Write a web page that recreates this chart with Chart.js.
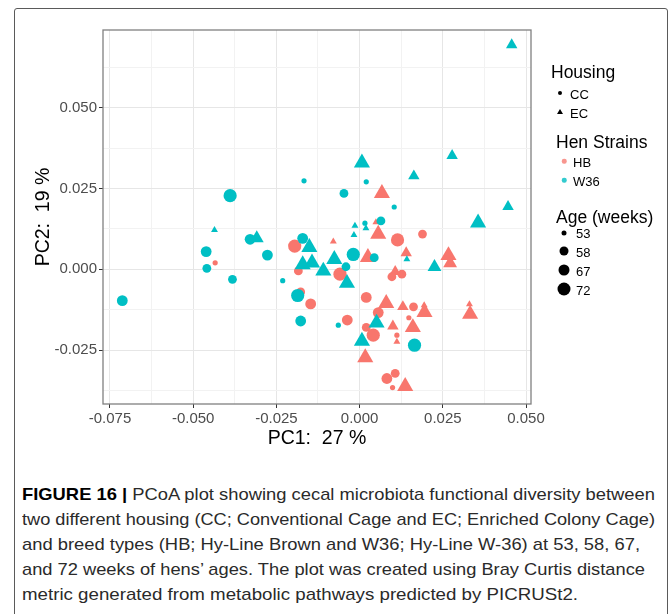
<!DOCTYPE html>
<html>
<head>
<meta charset="utf-8">
<script src="https://cdn.jsdelivr.net/npm/chart.js@4.4.1/dist/chart.umd.min.js"></script>
<style>
  html, body { margin: 0; padding: 0; background: #fff; }
  body { width: 670px; height: 614px; position: relative; overflow: hidden; font-family: "Liberation Sans", Arimo, Arial, sans-serif; }
  #frame { position: absolute; left: 14px; top: 8px; width: 652px; height: 630px; border: 1.5px solid #5a5a5a; border-radius: 3px; }
  #pcoa { position: absolute; left: 0; top: 0; }
  .lg { position: absolute; transform: translateY(-50%); line-height: 1; color: #000; white-space: nowrap; }
  .lt { font-size: 17.5px; }
  .li { font-size: 13px; }
  .sym { position: absolute; transform: translate(-50%, -50%); border-radius: 50%; }
  .tri { position: absolute; transform: translate(-50%, -60%); width: 0; height: 0; border-left: 3px solid transparent; border-right: 3px solid transparent; border-bottom: 5px solid #000; }
  .cap { position: absolute; left: 22px; font-family: "Liberation Sans", Arimo, Arial, sans-serif; font-size: 17px; color: #2a2a2a; white-space: nowrap; transform-origin: 0 50%; line-height: 1; }
  .cap b { color: #000; }
</style>
</head>
<body>
<div id="frame"></div>
<canvas id="pcoa" width="670" height="460"></canvas>

<div class="lg lt" style="left:551px;top:73px">Housing</div>
<div class="sym" style="left:560px;top:93px;width:4px;height:4px;background:#000"></div>
<div class="lg li" style="left:570px;top:93.5px">CC</div>
<div class="tri" style="left:560px;top:112px"></div>
<div class="lg li" style="left:570px;top:112.5px">EC</div>

<div class="lg lt" style="left:556px;top:143px">Hen Strains</div>
<div class="sym" style="left:564px;top:161px;width:4.5px;height:4.5px;background:#f8968f"></div>
<div class="lg li" style="left:573px;top:161.5px">HB</div>
<div class="sym" style="left:564px;top:180px;width:4.5px;height:4.5px;background:#33cbcf"></div>
<div class="lg li" style="left:573px;top:180.5px">W36</div>

<div class="lg lt" style="left:556px;top:218px">Age (weeks)</div>
<div class="sym" style="left:564px;top:232.5px;width:5px;height:5px;background:#000"></div>
<div class="lg li" style="left:576px;top:233px">53</div>
<div class="sym" style="left:564px;top:251px;width:9px;height:9px;background:#000"></div>
<div class="lg li" style="left:576px;top:251.5px">58</div>
<div class="sym" style="left:564px;top:270px;width:11px;height:11px;background:#000"></div>
<div class="lg li" style="left:576px;top:270.5px">67</div>
<div class="sym" style="left:564px;top:289px;width:13px;height:13px;background:#000"></div>
<div class="lg li" style="left:576px;top:289.5px">72</div>

<div class="cap" data-w="633" style="top:486px"><b>FIGURE 16 |</b> PCoA plot showing cecal microbiota functional diversity between</div>
<div class="cap" data-w="633" style="top:511px">two different housing (CC; Conventional Cage and EC; Enriched Colony Cage)</div>
<div class="cap" data-w="618" style="top:536px">and breed types (HB; Hy-Line Brown and W36; Hy-Line W-36) at 53, 58, 67,</div>
<div class="cap" data-w="623" style="top:561px">and 72 weeks of hens’ ages. The plot was created using Bray Curtis distance</div>
<div class="cap" data-w="556" style="top:586px">metric generated from metabolic pathways predicted by PICRUSt2.</div>

<script>
// HB, conventional cage (circles)
const hbCcX = [-0.0434, -0.0195, -0.0184, -0.0177, -0.0147, -0.0059, -0.0037, 0.0020, 0.0114, 0.0189, 0.0097, 0.0127, 0.0162, 0.0056, 0.0148, 0.0020, 0.0041, 0.0112, 0.0082, 0.0107, 0.0099];
const hbCcY = [0.0020, 0.0072, -0.0005, -0.0070, -0.0107, -0.0015, -0.0157, -0.0087, 0.0091, 0.0109, -0.0023, -0.0015, -0.0116, -0.0134, -0.0150, -0.0180, -0.0204, -0.0204, -0.0338, -0.0322, -0.0366];
const hbCcAge = [53, 72, 58, 58, 67, 72, 67, 67, 72, 58, 58, 58, 58, 67, 53, 58, 72, 53, 67, 58, 53];

// HB, enriched colony (triangles)
const hbEcX = [-0.0079, 0.0025, 0.0056, 0.0049, 0.0067, 0.0140, 0.0267, 0.0272, 0.0107, 0.0080, 0.0130, 0.0194, 0.0195, 0.0330, 0.0332, 0.0100, 0.0160, 0.0112, 0.0017, 0.0137];
const hbEcY = [0.0086, 0.0037, 0.0109, 0.0146, 0.0235, 0.0051, 0.0043, 0.0019, -0.0007, -0.0105, -0.0116, -0.0111, -0.0133, -0.0108, -0.0139, -0.0176, -0.0180, -0.0224, -0.0273, -0.0362];
const hbEcAge = [53, 72, 72, 53, 72, 58, 72, 67, 58, 72, 58, 53, 72, 53, 72, 58, 72, 53, 72, 72];

// W36, conventional cage (circles)
const w36CcX = [-0.0713, -0.0389, -0.0461, -0.0459, -0.0382, -0.0329, -0.0277, -0.0231, -0.0171, -0.0186, -0.0177, -0.0167, -0.0064, -0.0041, -0.0019, -0.0047, 0.0020, 0.0104, 0.0016, 0.0064, 0.0044, 0.0165];
const w36CcY = [-0.0097, 0.0228, 0.0055, 0.0003, -0.0031, 0.0093, 0.0044, -0.0035, 0.0096, -0.0081, -0.0160, 0.0274, -0.0173, 0.0008, 0.0046, 0.0235, 0.0271, 0.0193, 0.0143, 0.0150, 0.0036, -0.0235];
const w36CcAge = [67, 72, 67, 58, 58, 67, 67, 53, 67, 72, 67, 53, 53, 58, 72, 58, 53, 53, 53, 58, 58, 72];

// W36, enriched colony (triangles)
const w36EcX = [-0.0436, -0.0309, -0.0151, -0.0171, -0.0143, -0.0109, -0.0076, -0.0038, 0.0007, 0.0163, 0.0278, 0.0457, 0.0446, 0.0356, -0.0014, -0.0017, 0.0019, 0.0142, 0.0225, 0.0051, 0.0007];
const w36EcY = [0.0122, 0.0096, 0.0068, 0.0015, 0.0020, -0.0005, 0.0031, -0.0043, 0.0330, 0.0289, 0.0352, 0.0695, 0.0194, 0.0144, 0.0135, 0.0106, 0.0127, 0.0031, 0.0007, -0.0166, -0.0222];
const w36EcAge = [53, 67, 72, 72, 72, 72, 72, 72, 72, 58, 58, 58, 58, 72, 53, 53, 53, 53, 67, 72, 72];

// axis ticks
const xMajor = [-0.075, -0.05, -0.025, 0, 0.025, 0.05];
const xLabels = ['-0.075', '-0.050', '-0.025', '0.000', '0.025', '0.050'];
const xMinor = [-0.0625, -0.0375, -0.0125, 0.0125, 0.0375];
const yMajor = [-0.025, 0, 0.025, 0.05];
const yLabels = ['-0.025', '0.000', '0.025', '0.050'];
const yMinor = [-0.0375, -0.0125, 0.0125, 0.0375, 0.0625];

const RED = '#F8766D';
const CYAN = '#00BFC4';
const FONT = '"Liberation Sans", Arimo, Arial, sans-serif';
const circleR = {53: 2.6, 58: 4.4, 67: 5.4, 72: 6.6};
const triR = {53: 4, 58: 6.6, 67: 8, 72: 9.3};

function pts(xs, ys) {
  return xs.map((x, i) => ({x: x, y: ys[i]}));
}
function idx(list, v) {
  return list.findIndex(m => Math.abs(m - v) < 1e-9);
}

const panelBorder = {
  id: 'panelBorder',
  afterDatasetsDraw(chart) {
    const a = chart.chartArea;
    const c = chart.ctx;
    c.save();
    c.strokeStyle = '#808080';
    c.lineWidth = 1.3;
    c.strokeRect(a.left, a.top, a.right - a.left, a.bottom - a.top);
    c.restore();
  }
};

function axis(major, labels, minor, min, max, title, extra) {
  return Object.assign({
    type: 'linear',
    min: min,
    max: max,
    afterBuildTicks: (scale) => {
      scale.ticks = major.concat(minor).sort((a, b) => a - b).map(v => ({value: v}));
    },
    ticks: {
      autoSkip: false,
      maxRotation: 0,
      color: '#4d4d4d',
      padding: 2,
      font: {family: FONT, size: 15},
      callback: (v) => { const k = idx(major, v); return k >= 0 ? labels[k] : ''; }
    },
    grid: {
      color: (ctx) => ctx.tick && idx(major, ctx.tick.value) >= 0 ? '#e6e6e6' : '#f2f2f2',
      lineWidth: 1,
      tickLength: 4,
      tickColor: (ctx) => ctx.tick && idx(major, ctx.tick.value) >= 0 ? '#333' : 'rgba(0,0,0,0)',
      tickWidth: 1
    },
    border: {display: false},
    title: {
      display: true,
      text: title,
      color: '#000',
      font: {family: FONT, size: 19.5}
    }
  }, extra);
}

const xScale = axis(xMajor, xLabels, xMinor, -0.0771, 0.0515, 'PC1:  27 %', {
  afterFit: (s) => { s.height = 56; }
});
xScale.title.padding = {top: 0, bottom: 10};
const yScale = axis(yMajor, yLabels, yMinor, -0.0417, 0.0741, 'PC2:  19 %', {
  afterFit: (s) => { s.width = 103; }
});
yScale.title.padding = {top: 32, bottom: 0};

new Chart(document.getElementById('pcoa'), {
  type: 'scatter',
  data: {
    datasets: [
      {label: 'W36 CC', data: pts(w36CcX, w36CcY), pointStyle: 'circle', backgroundColor: CYAN,
       pointRadius: w36CcAge.map(a => circleR[a])},
      {label: 'W36 EC', data: pts(w36EcX, w36EcY), pointStyle: 'triangle', backgroundColor: CYAN,
       pointRadius: w36EcAge.map(a => triR[a])},
      {label: 'HB CC', data: pts(hbCcX, hbCcY), pointStyle: 'circle', backgroundColor: RED,
       pointRadius: hbCcAge.map(a => circleR[a])},
      {label: 'HB EC', data: pts(hbEcX, hbEcY), pointStyle: 'triangle', backgroundColor: RED,
       pointRadius: hbEcAge.map(a => triR[a])}
    ].map(d => Object.assign(d, {borderWidth: 0, pointHoverRadius: d.pointRadius}))
  },
  options: {
    responsive: false,
    animation: false,
    devicePixelRatio: 1,
    layout: {padding: {top: 30, right: 139, left: 0, bottom: 0}},
    plugins: {legend: {display: false}, tooltip: {enabled: false}},
    scales: {x: xScale, y: yScale}
  },
  plugins: [panelBorder]
});

// fit caption lines to their widths
document.querySelectorAll('.cap').forEach(el => {
  const w = el.getBoundingClientRect().width;
  el.style.transform = 'scaleX(' + (parseFloat(el.dataset.w) / w) + ')';
});
</script>
</body>
</html>
